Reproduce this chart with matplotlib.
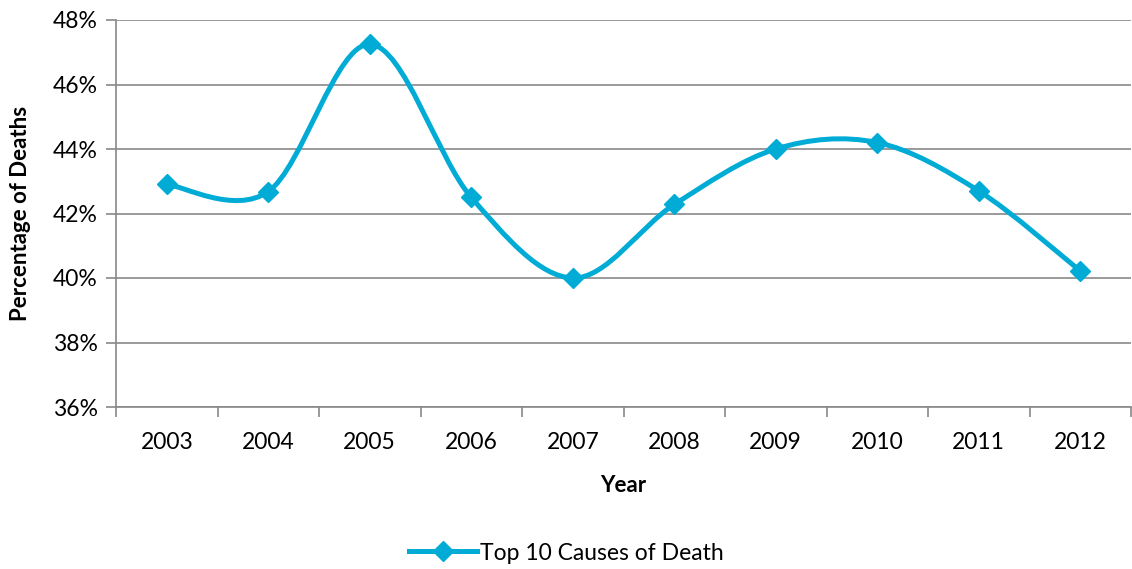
import matplotlib
matplotlib.use("Agg")
import matplotlib.pyplot as plt
import numpy as np
from matplotlib.path import Path
from matplotlib.patches import PathPatch
from matplotlib.lines import Line2D
from matplotlib.ticker import FixedLocator, FuncFormatter

years = ["2003", "2004", "2005", "2006", "2007", "2008", "2009", "2010", "2011", "2012"]
pct = [42.9, 42.68, 47.25, 42.5, 40.0, 42.28, 44.0, 44.2, 42.7, 40.22]
series_name = "Top 10 Causes of Death"

color = "#00ACD6"
plt.rcParams['font.family'] = ['Lato', 'DejaVu Sans']

fig = plt.figure(figsize=(11.32, 5.69), dpi=100)
ax = fig.add_axes([116 / 1132, 1 - 407 / 569, 1 - 117 / 1132, 387 / 569])

x = np.arange(len(years), dtype=float)
y = np.array(pct)

# smoothed line like a spreadsheet chart: cubic bezier through the points
pts = np.column_stack([x, y])
ext = np.vstack([pts[0], pts, pts[-1]])
verts = [tuple(pts[0])]
codes = [Path.MOVETO]
for i in range(len(pts) - 1):
    p0, p1, p2, p3 = ext[i], ext[i + 1], ext[i + 2], ext[i + 3]
    c1 = p1 + (p2 - p0) / 6.0
    c2 = p2 - (p3 - p1) / 6.0
    verts += [tuple(c1), tuple(c2), tuple(p2)]
    codes += [Path.CURVE4] * 3
ax.add_patch(PathPatch(Path(verts, codes), facecolor="none", edgecolor=color,
                       lw=3.6, capstyle="round", joinstyle="round", zorder=3))
ax.plot(x, y, linestyle="none", marker="D", markersize=10, color=color, zorder=4)

ax.set_xlim(-0.5, len(years) - 0.5)
ax.set_ylim(36, 48)
ax.set_yticks(np.arange(36, 48.1, 2))
ax.yaxis.set_major_formatter(FuncFormatter(lambda v, p: f"{v:.0f}%"))
ax.set_xticks(x)
ax.set_xticklabels(years)
ax.xaxis.set_minor_locator(FixedLocator(np.arange(-0.5, len(years), 1.0)))
ax.tick_params(axis="x", which="major", length=0, labelsize=16.5, pad=18)
ax.tick_params(axis="x", which="minor", length=7, width=1.2, color="#898989", direction="out")
ax.tick_params(axis="y", length=7, width=1.2, color="#898989", labelsize=16.5, pad=6)

ax.grid(axis="y", color="#898989", lw=1.2)
ax.set_axisbelow(True)
for s in ["top", "right"]:
    ax.spines[s].set_visible(False)
for s in ["left", "bottom"]:
    ax.spines[s].set_color("#898989")
    ax.spines[s].set_linewidth(1.2)

ax.set_xlabel("Year", fontsize=16, fontweight="bold", labelpad=16)
ax.set_ylabel("Percentage of Deaths", fontsize=16, fontweight="bold", labelpad=16)

handle = Line2D([], [], color=color, lw=3.6, marker="D", markersize=10)
fig.legend([handle], [series_name], loc="center", bbox_to_anchor=(0.5, 1 - 553 / 569),
           frameon=False, fontsize=16.5, handlelength=3, handletextpad=0.1)

fig.savefig("out.png", dpi=100)
